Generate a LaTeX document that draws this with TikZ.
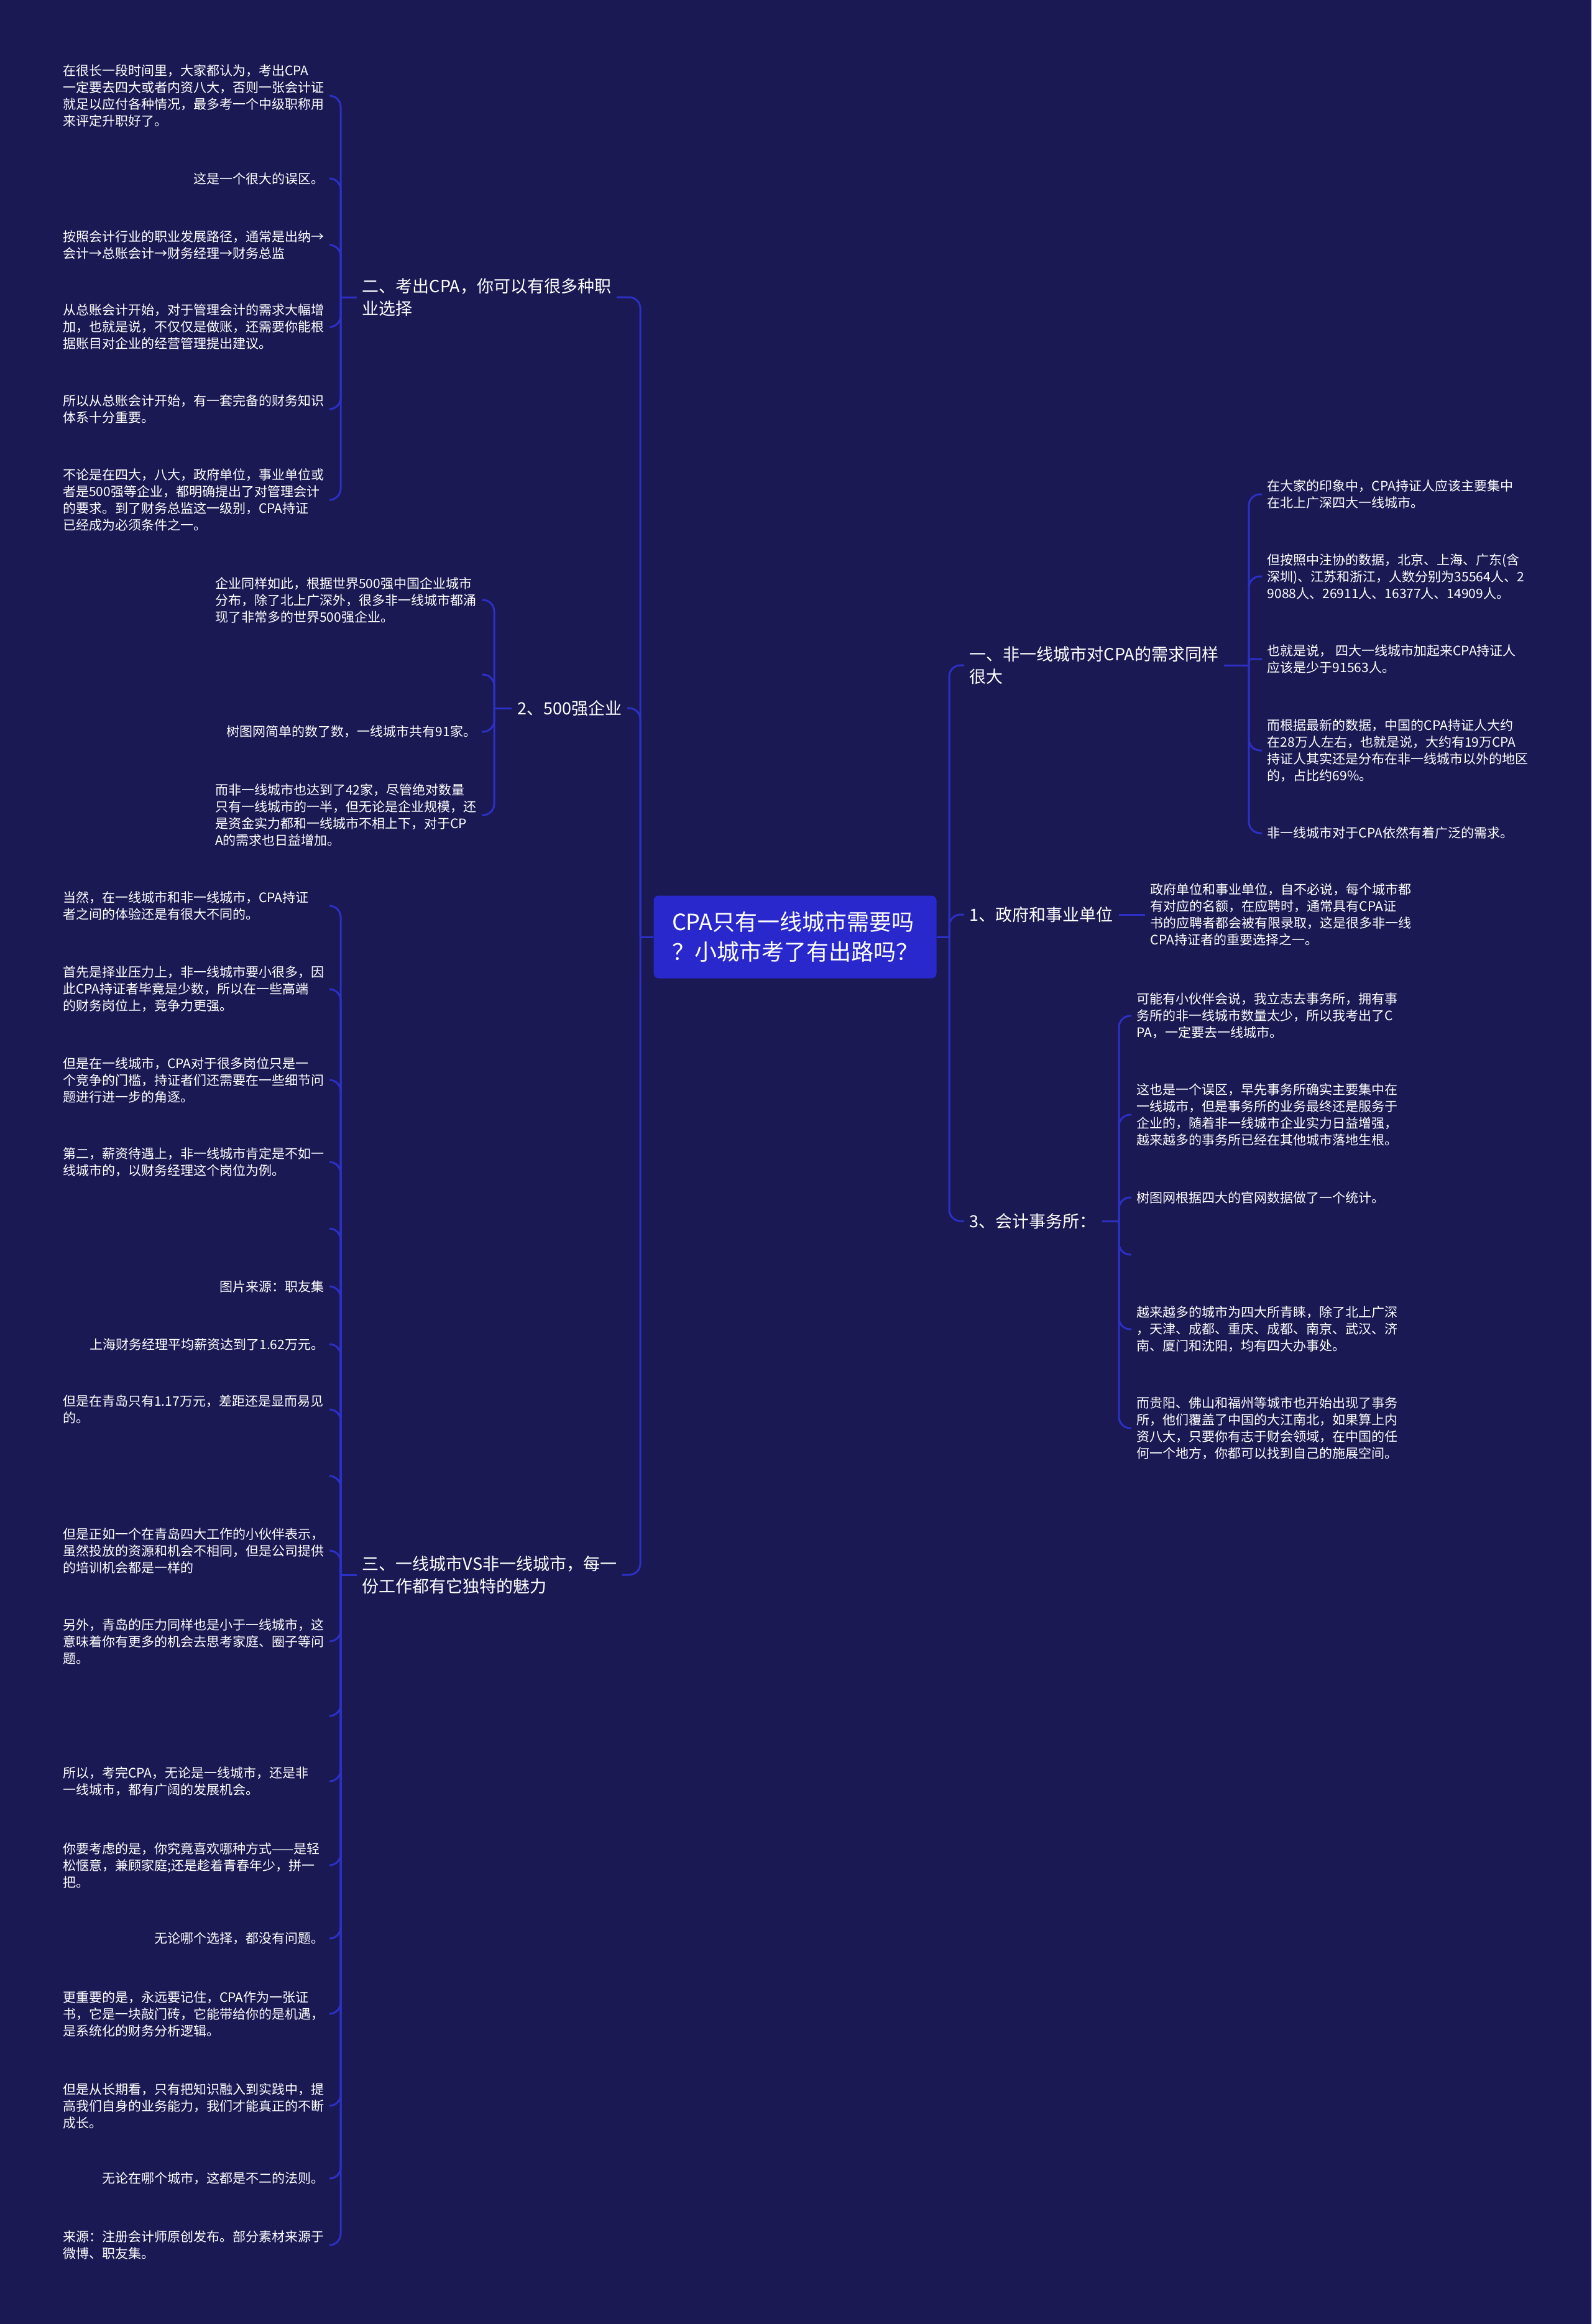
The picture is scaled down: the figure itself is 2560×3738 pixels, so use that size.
\documentclass[tikz,border=0pt]{standalone}
\usepackage{fontspec}
\setmainfont{Noto Sans CJK SC}
\definecolor{bgc}{RGB}{26,25,84}
\definecolor{linec}{RGB}{44,48,196}
\definecolor{rootc}{RGB}{40,40,204}
\newcommand\fleaf{\fontsize{5.25pt}{6.75pt}\selectfont}
\newcommand\fbranch{\fontsize{6.75pt}{9pt}\selectfont}
\newcommand\fcenter{\fontsize{9pt}{12pt}\selectfont}
\begin{document}
\begin{tikzpicture}[x=0.25pt,y=-0.25pt,
  leafL/.style={anchor=east,align=left,text width=105pt,inner xsep=2pt,inner ysep=0pt,text=white,font=\fleaf},
  leafO/.style={anchor=east,align=left,inner xsep=2pt,inner ysep=0pt,text=white,font=\fleaf},
  leafR/.style={anchor=west,align=left,inner xsep=2pt,inner ysep=0pt,text=white,font=\fleaf},
  branch/.style={align=left,inner xsep=2pt,inner ysep=0pt,text=white,font=\fbranch},
  conn/.style={draw=linec,line width=0.75pt,rounded corners=4.5pt},
  connS/.style={draw=linec,line width=0.75pt,rounded corners=1pt},
]
\fill[bgc] (0,0) rectangle (2560,3738);
\useasboundingbox (0,0) rectangle (2560,3738);

% root
\node[fill=rootc,rounded corners=2pt,minimum width=113.75pt,minimum height=33.25pt,inner sep=0pt,align=left,text=white,font=\fcenter] (root) at (1279,1507) {CPA只有一线城市需要吗\\？小城市考了有出路吗？};

% branch labels
\node[branch,anchor=west] (b2) at (574,478) {二、考出CPA，你可以有很多种职\\业选择};
\node[branch,anchor=east] (b500) at (1009,1139) {2、500强企业};
\node[branch,anchor=west] (b3) at (574,2533) {三、一线城市VS非一线城市，每一\\份工作都有它独特的魅力};
\node[branch,anchor=west] (bA) at (1551,1070) {一、非一线城市对CPA的需求同样\\很大};
\node[branch,anchor=west] (bGov) at (1551,1471) {1、政府和事业单位};
\node[branch,anchor=west] (bFirm) at (1551,1964) {3、会计事务所：};

% junctions
\coordinate (jL) at (1030,1507);
\coordinate (jR) at (1527,1507);
\coordinate (j2) at (548,478);
\coordinate (j5) at (795,1139);
\coordinate (j3) at (548,2533);
\coordinate (jA) at (2009,1070);
\coordinate (jF) at (1800,1964);

% section 二 leaves
\node[leafL] (L1) at (530,154) {在很长一段时间里，大家都认为，考出CPA\\一定要去四大或者内资八大，否则一张会计证\\就足以应付各种情况，最多考一个中级职称用\\来评定升职好了。};
\node[leafO] (L2) at (530,287) {这是一个很大的误区。};
\node[leafL] (L3) at (530,394) {按照会计行业的职业发展路径，通常是出纳→\\会计→总账会计→财务经理→财务总监};
\node[leafL] (L4) at (530,526) {从总账会计开始，对于管理会计的需求大幅增\\加，也就是说，不仅仅是做账，还需要你能根\\据账目对企业的经营管理提出建议。};
\node[leafL] (L5) at (530,658) {所以从总账会计开始，有一套完备的财务知识\\体系十分重要。};
\node[leafL] (L6) at (530,804) {不论是在四大，八大，政府单位，事业单位或\\者是500强等企业，都明确提出了对管理会计\\的要求。到了财务总监这一级别，CPA持证\\已经成为必须条件之一。};

% section 500 leaves
\node[leafL] (F1) at (775,965) {企业同样如此，根据世界500强中国企业城市\\分布，除了北上广深外，很多非一线城市都涌\\现了非常多的世界500强企业。};
\coordinate (Fe) at (775,1085);
\node[leafO] (F2) at (775,1177) {树图网简单的数了数，一线城市共有91家。};
\node[leafL] (F3) at (775,1311) {而非一线城市也达到了42家，尽管绝对数量\\只有一线城市的一半，但无论是企业规模，还\\是资金实力都和一线城市不相上下，对于CP\\A的需求也日益增加。};

% section 三 leaves
\node[leafL] (T1) at (530,1457) {当然，在一线城市和非一线城市，CPA持证\\者之间的体验还是有很大不同的。};
\node[leafL] (T2) at (530,1591) {首先是择业压力上，非一线城市要小很多，因\\此CPA持证者毕竟是少数，所以在一些高端\\的财务岗位上，竞争力更强。};
\node[leafL] (T3) at (530,1737) {但是在一线城市，CPA对于很多岗位只是一\\个竞争的门槛，持证者们还需要在一些细节问\\题进行进一步的角逐。};
\node[leafL] (T4) at (530,1869) {第二，薪资待遇上，非一线城市肯定是不如一\\线城市的，以财务经理这个岗位为例。};
\coordinate (Te1) at (530,1976);
\node[leafO] (T5) at (530,2069) {图片来源：职友集};
\node[leafO] (T6) at (530,2162) {上海财务经理平均薪资达到了1.62万元。};
\node[leafL] (T7) at (530,2267) {但是在青岛只有1.17万元，差距还是显而易见\\的。};
\coordinate (Te2) at (530,2374);
\node[leafL] (T8) at (530,2494) {但是正如一个在青岛四大工作的小伙伴表示，\\虽然投放的资源和机会不相同，但是公司提供\\的培训机会都是一样的};
\node[leafL] (T9) at (530,2640) {另外，青岛的压力同样也是小于一线城市，这\\意味着你有更多的机会去思考家庭、圈子等问\\题。};
\coordinate (Te3) at (530,2760);
\node[leafL] (T10) at (530,2865) {所以，考完CPA，无论是一线城市，还是非\\一线城市，都有广阔的发展机会。};
\node[leafL] (T11) at (530,3000) {你要考虑的是，你究竟喜欢哪种方式——是轻\\松惬意，兼顾家庭;还是趁着青春年少，拼一\\把。};
\node[leafO] (T12) at (530,3118) {无论哪个选择，都没有问题。};
\node[leafL] (T13) at (530,3239) {更重要的是，永远要记住，CPA作为一张证\\书，它是一块敲门砖，它能带给你的是机遇，\\是系统化的财务分析逻辑。};
\node[leafL] (T14) at (530,3387) {但是从长期看，只有把知识融入到实践中，提\\高我们自身的业务能力，我们才能真正的不断\\成长。};
\node[leafO] (T15) at (530,3504) {无论在哪个城市，这都是不二的法则。};
\node[leafL] (T16) at (530,3611) {来源：注册会计师原创发布。部分素材来源于\\微博、职友集。};

% section 一 leaves
\node[leafR] (R1) at (2030,795) {在大家的印象中，CPA持证人应该主要集中\\在北上广深四大一线城市。};
\node[leafR] (R2) at (2030,927) {但按照中注协的数据，北京、上海、广东(含\\深圳)、江苏和浙江，人数分别为35564人、2\\9088人、26911人、16377人、14909人。};
\node[leafR] (R3) at (2030,1060) {也就是说， 四大一线城市加起来CPA持证人\\应该是少于91563人。};
\node[leafR] (R4) at (2030,1207) {而根据最新的数据，中国的CPA持证人大约\\在28万人左右，也就是说，大约有19万CPA\\持证人其实还是分布在非一线城市以外的地区\\的，占比约69\%。};
\node[leafR] (R5) at (2030,1340) {非一线城市对于CPA依然有着广泛的需求。};

% gov leaf
\node[leafR] (G1) at (1842,1471) {政府单位和事业单位，自不必说，每个城市都\\有对应的名额，在应聘时，通常具有CPA证\\书的应聘者都会被有限录取，这是很多非一线\\CPA持证者的重要选择之一。};

% section 3 leaves
\node[leafR] (A1) at (1820,1634) {可能有小伙伴会说，我立志去事务所，拥有事\\务所的非一线城市数量太少，所以我考出了C\\PA，一定要去一线城市。};
\node[leafR] (A2) at (1820,1793) {这也是一个误区，早先事务所确实主要集中在\\一线城市，但是事务所的业务最终还是服务于\\企业的，随着非一线城市企业实力日益增强，\\越来越多的事务所已经在其他城市落地生根。};
\node[leafR] (A3) at (1820,1926) {树图网根据四大的官网数据做了一个统计。};
\coordinate (Ae) at (1820,2018);
\node[leafR] (A4) at (1820,2138) {越来越多的城市为四大所青睐，除了北上广深\\，天津、成都、重庆、成都、南京、武汉、济\\南、厦门和沈阳，均有四大办事处。};
\node[leafR] (A5) at (1820,2297) {而贵阳、佛山和福州等城市也开始出现了事务\\所，他们覆盖了中国的大江南北，如果算上内\\资八大，只要你有志于财会领域，在中国的任\\何一个地方，你都可以找到自己的施展空间。};

% main connectors
\draw[conn] (root.west) -- (jL);
\draw[conn] (root.east) -- (jR);
\draw[conn] (jL) |- (b2.east);
\draw[conn] (jL) |- (b500.east);
\draw[conn] (jL) |- (b3.east);
\draw[conn] (jR) |- (bA.west);
\draw[conn] (jR) |- (bGov.west);
\draw[conn] (jR) |- (bFirm.west);

% stubs to sub-trunks
\draw[conn] (b2.west) -- (j2);
\draw[conn] (b500.west) -- (j5);
\draw[conn] (b3.west) -- (j3);
\draw[conn] (bA.east) -- (jA);
\draw[conn] (bFirm.east) -- (jF);
\draw[conn] (bGov.east) -- (G1.west);

% section 二
\foreach \n in {L1,L2,L3,L4,L5,L6} {\draw[conn] (j2) |- (\n.east);}
% section 500
\foreach \n in {F1,F2,F3} {\draw[conn] (j5) |- (\n.east);}
\draw[conn] (j5) |- (Fe);
% section 三
\foreach \n in {T1,T2,T3,T4,T5,T6,T7,T8,T9,T10,T11,T12,T13,T14,T15,T16} {\draw[conn] (j3) |- (\n.east);}
\foreach \n in {Te1,Te2,Te3} {\draw[conn] (j3) |- (\n);}
% section 一
\foreach \n in {R1,R2,R4,R5} {\draw[conn] (jA) |- (\n.west);}
\draw[connS] (jA) |- (R3.west);
% section 3
\foreach \n in {A1,A2,A3,A4,A5} {\draw[conn] (jF) |- (\n.west);}
\draw[conn] (jF) |- (Ae);
\end{tikzpicture}
\end{document}
